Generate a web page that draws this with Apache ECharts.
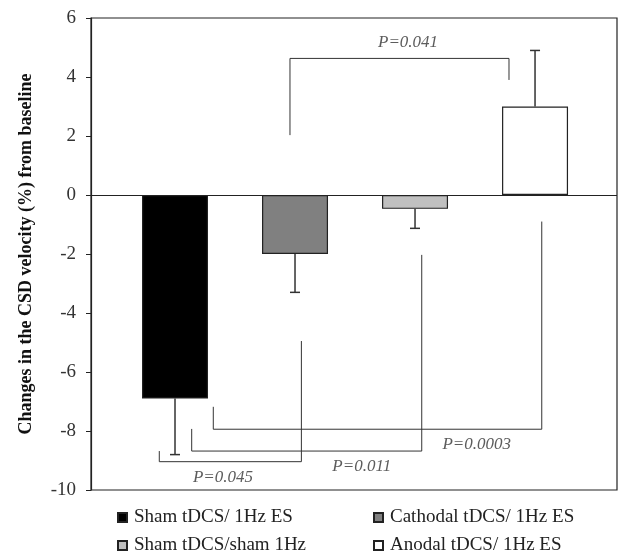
<!DOCTYPE html>
<html>
<head>
<meta charset="utf-8">
<script src="https://cdn.jsdelivr.net/npm/echarts@6/dist/echarts.min.js"></script>
<style>html,body{margin:0;padding:0;background:#fff;}#c{width:619px;height:553px;}</style>
</head>
<body>
<div id="c"></div>
<script>
// ---- data ----
var groups = ['Sham tDCS/ 1Hz ES', 'Cathodal tDCS/ 1Hz ES', 'Sham tDCS/sham 1Hz', 'Anodal tDCS/ 1Hz ES'];
var groupPos = [1, 2, 3, 4];
var means = [-6.9, -2.0, -0.47, 3.0];
var errorEnds = [-8.8, -3.3, -1.13, 4.9];
var barColors = ['#000000', '#808080', '#c0c0c0', '#ffffff'];
var yTicks = { min: -10, max: 6, step: 2 };

// significance brackets (axis units)
var bracket041 = [[1.958, 2.03], [1.958, 4.63], [3.783, 4.63], [3.783, 3.9]];
var bracket045 = [[0.869, -8.68], [0.869, -9.04], [2.053, -9.04], [2.053, -4.95]];
var bracket011 = [[1.139, -7.93], [1.139, -8.68], [3.056, -8.68], [3.056, -2.03]];
var bracket0003 = [[1.319, -7.18], [1.319, -7.94], [4.056, -7.94], [4.056, -0.9]];
var pLabels = [[2.942, 5.17, 'P=0.041'], [1.4, -9.58, 'P=0.045'], [2.556, -9.19, 'P=0.011'], [3.514, -8.46, 'P=0.0003']];

var chart = echarts.init(document.getElementById('c'), null, {renderer: 'canvas'});
var serif = '"Liberation Serif", "Times New Roman", serif';

var series = [];
groups.forEach(function (g, i) {
  series.push({
    name: g,
    type: 'bar',
    barWidth: 66,
    barGap: '-100%',
    data: [[groupPos[i], means[i]]],
    itemStyle: { color: barColors[i], borderColor: '#222', borderWidth: 1.2 },
    z: 3,
    markLine: i === 0 ? {
      silent: true, symbol: ['none', 'none'], label: { show: false },
      lineStyle: { color: '#222', width: 1.2, type: 'solid' },
      data: [{ yAxis: 0 }]
    } : undefined
  });
});

series.push({
  type: 'custom',
  z: 2,
  data: groupPos.map(function (x, i) { return [x, means[i], errorEnds[i]]; }),
  renderItem: function (params, api) {
    var p0 = api.coord([api.value(0), api.value(1)]);
    var p1 = api.coord([api.value(0), api.value(2)]);
    var s = { stroke: '#333', lineWidth: 1.5 };
    return {
      type: 'group',
      children: [
        { type: 'line', shape: { x1: p0[0], y1: p0[1], x2: p1[0], y2: p1[1] }, style: s },
        { type: 'line', shape: { x1: p1[0] - 5, y1: p1[1], x2: p1[0] + 5, y2: p1[1] }, style: s }
      ]
    };
  }
});

[bracket041, bracket045, bracket011, bracket0003].forEach(function (b) {
  series.push({
    type: 'line', data: b, symbol: 'none', silent: true, z: 4,
    lineStyle: { color: '#333', width: 1 }
  });
});

series.push({
  type: 'scatter', symbolSize: 0, silent: true, z: 5,
  data: pLabels,
  label: {
    show: true, position: 'inside',
    formatter: function (p) { return p.value[2]; },
    fontFamily: serif, fontStyle: 'italic', fontSize: 17, color: '#333'
  }
});

chart.setOption({
  animation: false,
  backgroundColor: '#fff',
  grid: { left: 91, top: 18, right: 2, bottom: 63, show: true, borderColor: '#222', borderWidth: 1.2, backgroundColor: 'transparent' },
  xAxis: { type: 'value', min: 0.3, max: 4.683, show: false },
  yAxis: {
    type: 'value', min: yTicks.min, max: yTicks.max, interval: yTicks.step,
    name: 'Changes in the CSD velocity (%) from baseline',
    nameLocation: 'middle', nameGap: 56,
    nameTextStyle: { fontFamily: serif, fontWeight: 'bold', fontSize: 18, color: '#111' },
    axisLine: { show: true, onZero: false, lineStyle: { color: '#222', width: 1.2 } },
    axisTick: { show: true, inside: false, length: 5, lineStyle: { color: '#222' } },
    axisLabel: { fontFamily: serif, fontSize: 19, color: '#333', margin: 15 },
    splitLine: { show: false }
  },
  legend: [0, 1, 2, 3].map(function (i) {
    var col = i % 2, row = Math.floor(i / 2);
    return {
      data: [groups[i]], left: col === 0 ? 117 : 373, top: row === 0 ? 508 : 536,
      padding: 0, itemWidth: 9, itemHeight: 9, itemGap: 0, icon: 'rect', selectedMode: false,
      textStyle: { fontFamily: serif, fontSize: 19, color: '#222', padding: [0, 0, 0, 2] }
    };
  }),
  series: series
});
</script>
</body>
</html>
